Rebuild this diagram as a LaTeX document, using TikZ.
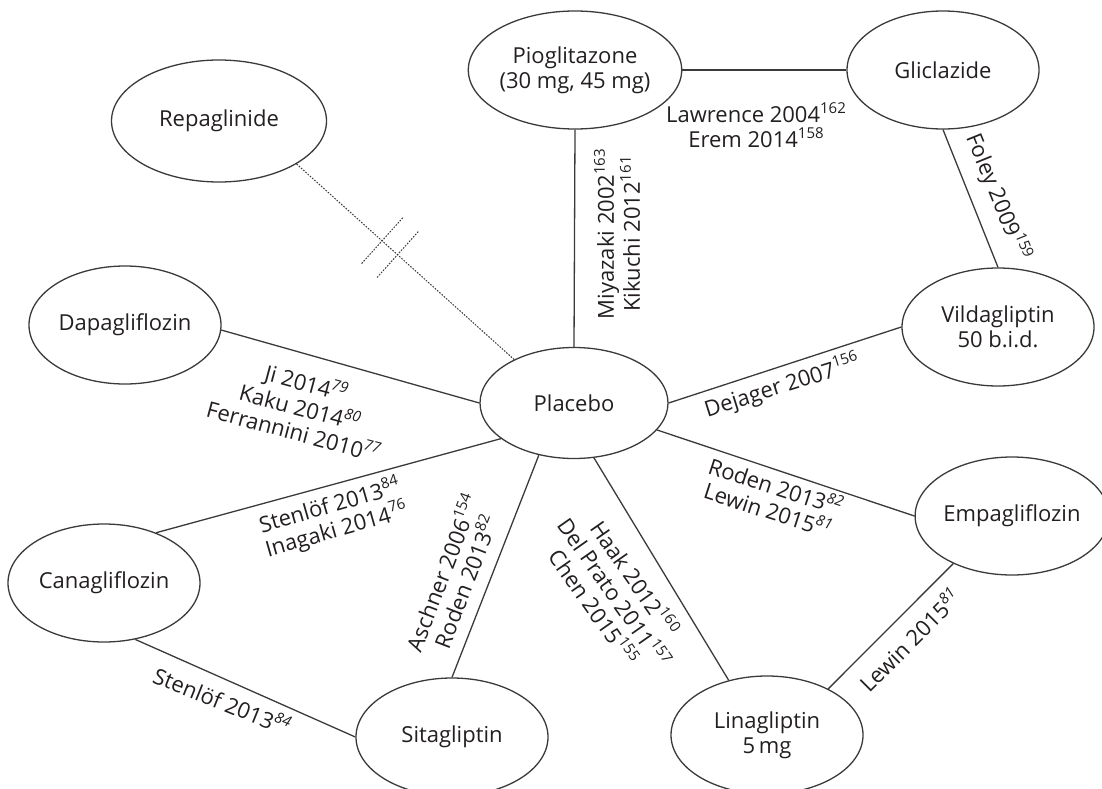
\documentclass[tikz,border=0pt]{standalone}
\usepackage{fontspec}
\setmainfont{Open Sans}
\usetikzlibrary{calc,shapes.geometric}
\definecolor{ink}{HTML}{231F20}
\definecolor{wire}{HTML}{3A3A3A}
\newcommand\sups[1]{\raisebox{9pt}{\fontsize{15}{15}\selectfont #1}}
\newcommand\supi[1]{\raisebox{9pt}{\fontsize{15}{15}\selectfont\itshape #1}}
\begin{document}
\begin{tikzpicture}[x=1pt,y=-1pt,
  drug/.style={draw=wire, line width=1.3pt, ellipse, minimum width=192pt, minimum height=118pt,
    inner sep=0pt, align=center, text=ink, font=\fontsize{22}{25}\selectfont},
  lbl/.style={inner sep=0pt, align=center, text=ink, font=\fontsize{22}{25}\selectfont},
  edge/.style={draw=wire, line width=1.3pt},
  dotline/.style={draw=wire, line width=1pt, dash pattern=on 1.6pt off 1.4pt}]
\useasboundingbox (0,0) rectangle (1102,789);
% nodes
\node[drug, minimum width=215pt, minimum height=122pt] (repa) at (219,121) {Repaglinide};
\node[drug] (pio) at (575,70) {Pioglitazone\\(30 mg, 45 mg)};
\node[drug] (gli) at (943,70) {Gliclazide};
\node[drug] (dapa) at (125,325) {Dapagliflozin};
\node[drug, minimum width=188pt, minimum height=111pt] (pla) at (574,403) {Placebo};
\node[drug] (vil) at (998,327) {Vildagliptin\\50 b.i.d.};
\node[drug] (empa) at (1012,516) {Empagliflozin};
\node[drug] (cana) at (104,583) {Canagliflozin};
\node[drug] (sita) at (452,737) {Sitagliptin};
\node[drug] (lina) at (767,735) {Linagliptin\\5\,mg};
% edges
\draw[edge] (pio.0) -- (gli.180);
\draw[edge] (pio.270) -- (pla.90);
\draw[edge] (gli.270) -- (vil.90);
\draw[edge] (pla.0) -- (vil.180);
\draw[edge] (pla.-18) -- (empa.180);
\draw[edge] (lina.37) -- (empa.219);
\draw[edge] (pla.-70) -- (lina.125);
\draw[edge] (pla.236) -- (sita.90);
\draw[edge] (pla.206) -- (cana.44);
\draw[edge] (dapa.-3) -- (pla.180);
\draw[edge] (cana.-61) -- (sita.180);
\draw[dotline] (repa.-29) -- (pla.144);
\coordinate (rs) at (repa.-29);
\coordinate (re) at (pla.144);
\coordinate (c1) at ($(rs)!0.393!(re)$);
\coordinate (c2) at ($(rs)!0.464!(re)$);
\draw[dotline] ($(c1)!31pt!90:(re)$) -- ($(c1)!31pt!-90:(re)$);
\draw[dotline] ($(c2)!31pt!90:(re)$) -- ($(c2)!31pt!-90:(re)$);
% labels
\node[lbl] (l1) at (756,125) {Lawrence 2004\sups{162}\\Erem 2014\sups{158}};
\node[lbl, rotate=90] (l2) at (617,234) {Miyazaki 2002\sups{163}\\Kikuchi 2012\sups{161}};
\node[lbl, rotate=-68] (l3) at (998,197) {Foley 2009\sups{159}};
\node[lbl, rotate=-15] (l4) at (300,406) {Ji 2014\supi{79}\\Kaku 2014\supi{80}\\Ferrannini 2010\supi{77}};
\node[lbl, rotate=17.5] (l5) at (782,386) {Dejager 2007\sups{156}};
\node[lbl, rotate=-18] (l6) at (772,497) {Roden 2013\supi{82}\\Lewin 2015\supi{81}};
\node[lbl, rotate=-55] (l7) at (615,592) {Haak 2012\sups{160}\\Del Prato 2011\sups{157}\\Chen 2015\sups{155}};
\node[lbl, rotate=69] (l8) at (453,577) {Aschner 2006\sups{154}\\Roden 2013\sups{82}};
\node[lbl, rotate=16] (l9) at (333,518) {Stenlöf 2013\sups{84}\\Inagaki 2014\sups{76}};
\node[lbl, rotate=-22] (l10) at (222,700) {Stenlöf 2013\supi{84}};
\node[lbl, rotate=45] (l11) at (909,640) {Lewin 2015\supi{81}};
\end{tikzpicture}
\end{document}
